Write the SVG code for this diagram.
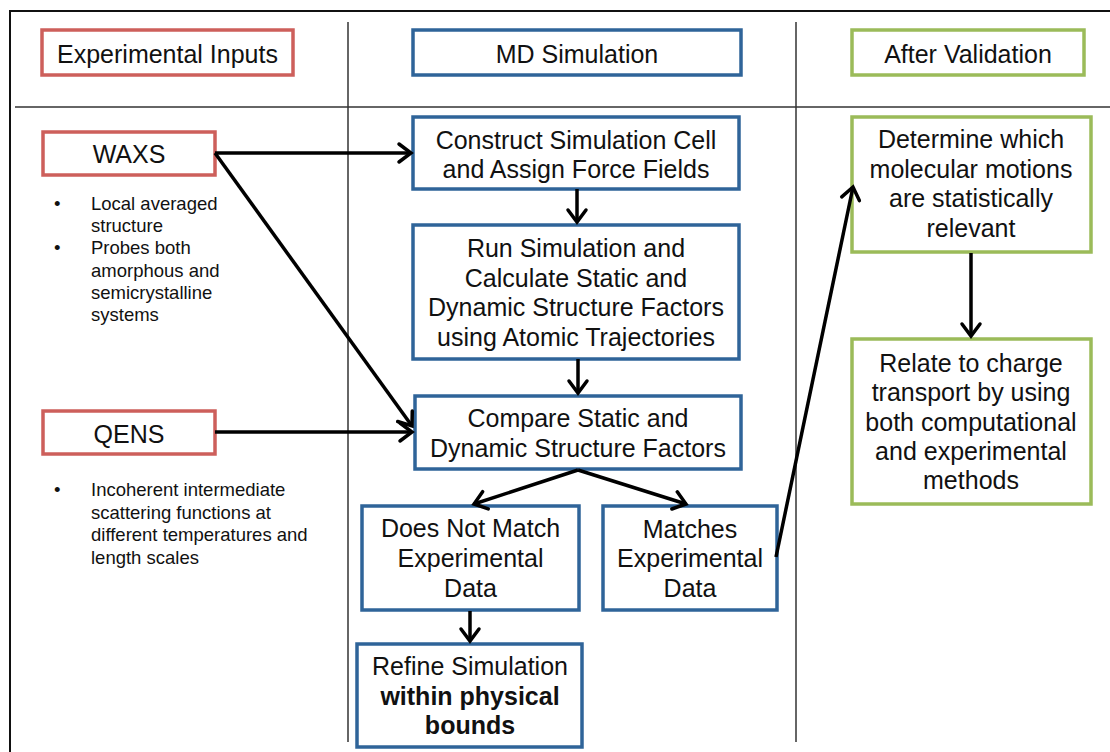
<svg xmlns="http://www.w3.org/2000/svg" width="1110" height="752" viewBox="0 0 1110 752">
<style>
text{font-family:"Liberation Sans",Arial,sans-serif;fill:#111;}
.t{font-size:25px;text-anchor:middle;}
.b{font-size:18.5px;}
.red{fill:#fff;stroke:#cd5f5b;stroke-width:3.5;}
.blue{fill:#fff;stroke:#2f6499;stroke-width:3.5;}
.green{fill:#fff;stroke:#9bbb59;stroke-width:3.5;}
.frame{stroke:#111;stroke-width:2;fill:none;}
.div{stroke:#333;stroke-width:1.5;fill:none;}
.arr{stroke:#000;stroke-width:3.5;fill:none;marker-end:url(#ah);}
.bold{font-weight:bold;}
</style>
<defs>
<marker id="ah" markerUnits="userSpaceOnUse" viewBox="-16 -12 19 24" refX="0" refY="0" markerWidth="19" markerHeight="24" orient="auto">
<path d="M-12,-9 L0,0 L-12,9" fill="none" stroke="#000" stroke-width="3.5" stroke-linecap="round"/>
</marker>
</defs>
<rect width="1110" height="752" fill="#fff"/>
<g id="frame">
<path class="frame" d="M10,752 V11 H1110"/>
<path class="div" d="M15,107 H1110"/>
<path class="div" d="M348,22 V742"/>
<path class="div" d="M796,22 V742"/>
</g>
<g id="h-exp"><rect class="red" x="42" y="30" width="251" height="45"/><text class="t" x="167.5" y="63">Experimental Inputs</text></g>
<g id="h-md"><rect class="blue" x="413" y="30" width="328" height="45"/><text class="t" x="577" y="63">MD Simulation</text></g>
<g id="h-av"><rect class="green" x="852" y="30" width="232" height="45"/><text class="t" x="968" y="63">After Validation</text></g>
<g id="waxs"><rect class="red" x="43" y="132" width="172" height="43"/><text class="t" x="129" y="163">WAXS</text></g>
<g id="waxs-notes">
<text class="b" x="54" y="210">•</text>
<text class="b" x="91" y="210">Local averaged</text>
<text class="b" x="91" y="232">structure</text>
<text class="b" x="54" y="254">•</text>
<text class="b" x="91" y="254">Probes both</text>
<text class="b" x="91" y="277">amorphous and</text>
<text class="b" x="91" y="299">semicrystalline</text>
<text class="b" x="91" y="321">systems</text>
</g>
<g id="qens"><rect class="red" x="43" y="411" width="172" height="43"/><text class="t" x="129" y="443">QENS</text></g>
<g id="qens-notes">
<text class="b" x="54" y="496">•</text>
<text class="b" x="91" y="496">Incoherent intermediate</text>
<text class="b" x="91" y="518.5">scattering functions at</text>
<text class="b" x="91" y="541">different temperatures and</text>
<text class="b" x="91" y="563.5">length scales</text>
</g>
<g id="construct"><rect class="blue" x="413" y="117" width="326" height="72"/>
<text class="t" x="576" y="149">Construct Simulation Cell</text><text class="t" x="576" y="178">and Assign Force Fields</text></g>
<g id="run"><rect class="blue" x="413" y="225" width="326" height="134"/>
<text class="t" x="576" y="257">Run Simulation and</text><text class="t" x="576" y="286.5">Calculate Static and</text><text class="t" x="576" y="316">Dynamic Structure Factors</text><text class="t" x="576" y="345.5">using Atomic Trajectories</text></g>
<g id="compare"><rect class="blue" x="415" y="396" width="326" height="73"/>
<text class="t" x="578" y="427">Compare Static and</text><text class="t" x="578" y="457">Dynamic Structure Factors</text></g>
<g id="nomatch"><rect class="blue" x="362" y="506" width="217" height="104"/>
<text class="t" x="470.5" y="537">Does Not Match</text><text class="t" x="470.5" y="567">Experimental</text><text class="t" x="470.5" y="597">Data</text></g>
<g id="matches"><rect class="blue" x="603" y="506" width="174" height="104"/>
<text class="t" x="690" y="538">Matches</text><text class="t" x="690" y="567">Experimental</text><text class="t" x="690" y="597">Data</text></g>
<g id="refine"><rect class="blue" x="357" y="644" width="225" height="103"/>
<text class="t" x="470" y="675">Refine Simulation</text><text class="t bold" x="470" y="705">within physical</text><text class="t bold" x="470" y="734">bounds</text></g>
<g id="determine"><rect class="green" x="852" y="117" width="239" height="135"/>
<text class="t" x="971" y="148">Determine which</text><text class="t" x="971" y="177.5">molecular motions</text><text class="t" x="971" y="207">are statistically</text><text class="t" x="971" y="236.5">relevant</text></g>
<g id="relate"><rect class="green" x="852" y="339" width="239" height="165"/>
<text class="t" x="971" y="372">Relate to charge</text><text class="t" x="971" y="401">transport by using</text><text class="t" x="971" y="430.5">both computational</text><text class="t" x="971" y="460">and experimental</text><text class="t" x="971" y="489">methods</text></g>
<g id="connectors">
<path class="arr" d="M215,153 H411"/>
<path class="arr" d="M215,153 L412,426"/>
<path class="arr" d="M215,432 H412"/>
<path class="arr" d="M577,189 V222"/>
<path class="arr" d="M578,359 V393"/>
<path class="arr" d="M578,470 L474,504"/>
<path class="arr" d="M578,470 L686,504"/>
<path class="arr" d="M470,611 V641"/>
<path class="arr" d="M776,557 L853,187"/>
<path class="arr" d="M971,253 V336"/>
</g>
</svg>
